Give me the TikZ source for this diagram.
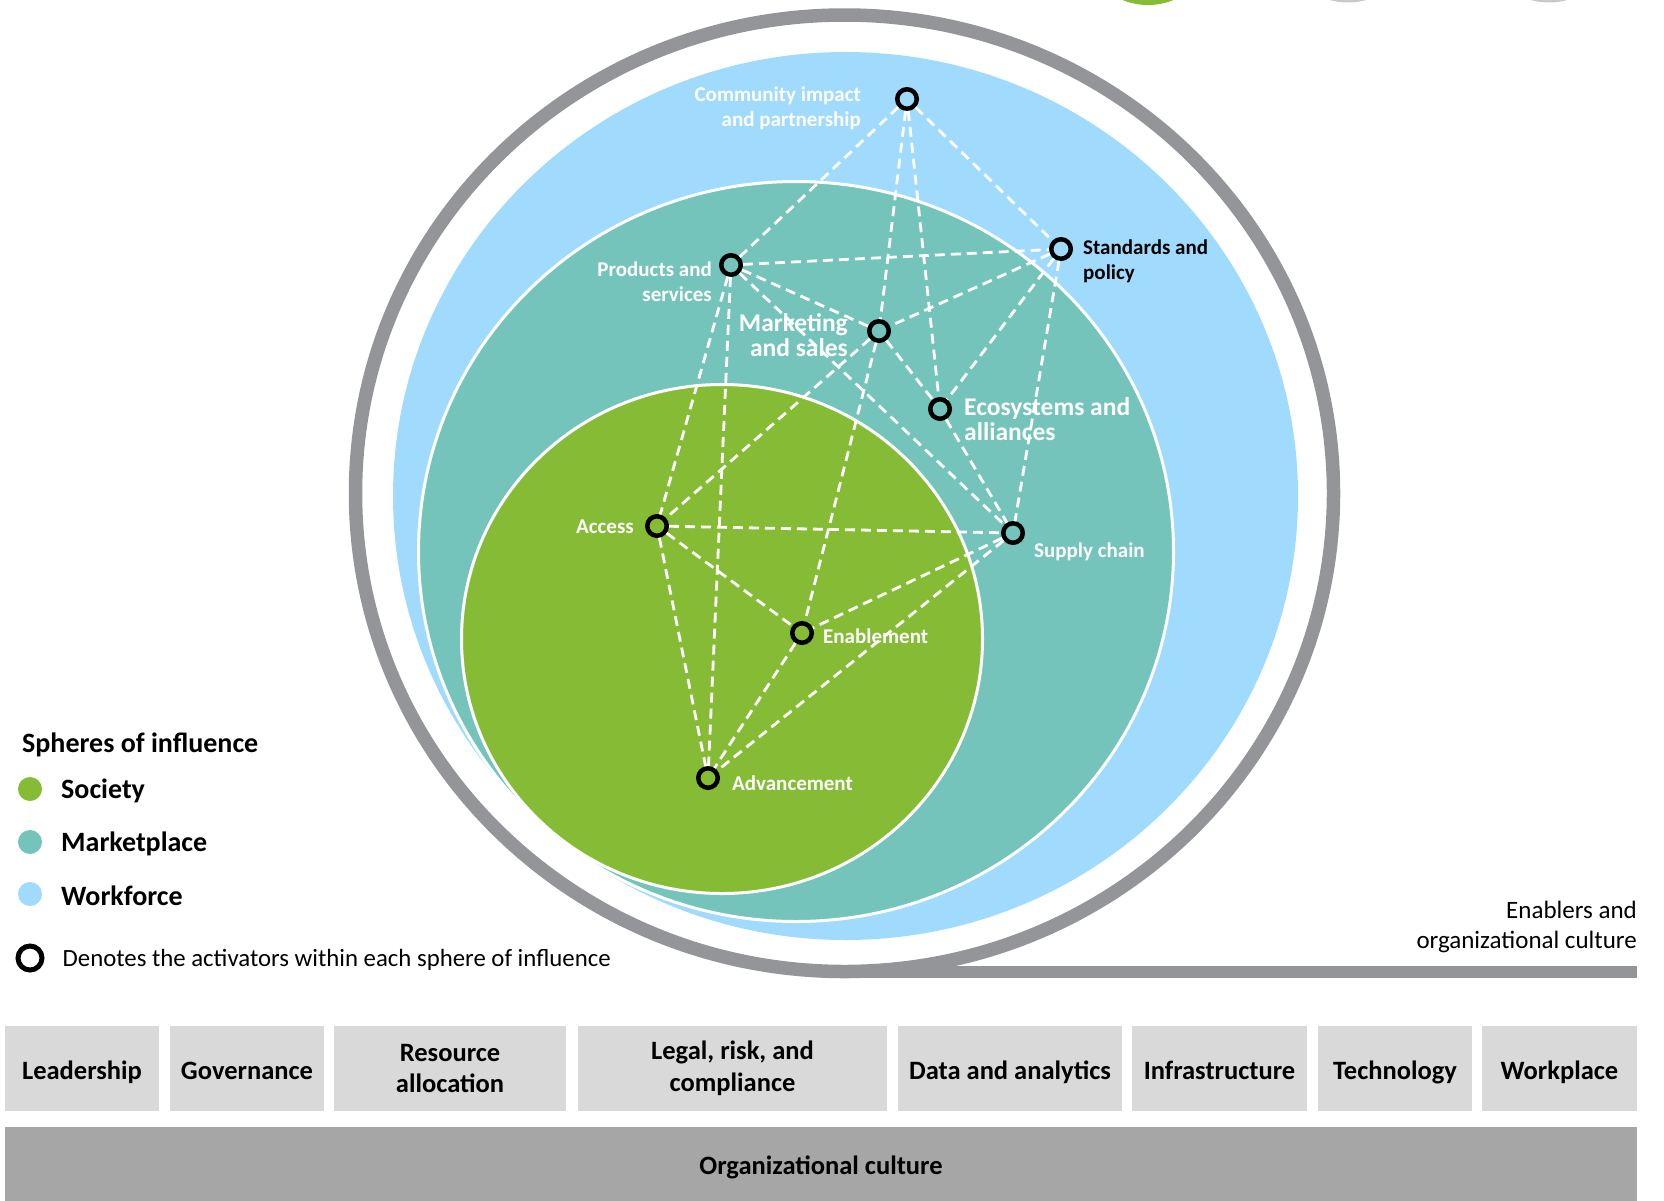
\documentclass[tikz,border=0pt]{standalone}
\usepackage{fontspec}
\setmainfont{Carlito}

\definecolor{society}{HTML}{86BC35}
\definecolor{market}{HTML}{75C4BB}
\definecolor{workforce}{HTML}{A0DBFD}
\definecolor{ringgray}{HTML}{939598}
\definecolor{boxgray}{HTML}{D9D9D9}
\definecolor{bargray}{HTML}{A6A6A6}
\definecolor{dotgray}{HTML}{C8C8C8}

\begin{document}
\begin{tikzpicture}[x=1pt,y=-1pt,
  activator/.style={circle,draw=black,line width=4.5pt,minimum size=19.5pt,inner sep=0pt},
  link/.style={draw=white,line width=2.8pt,dash pattern=on 10pt off 6pt},
  lbl/.style={font=\fontsize{21}{25}\selectfont\bfseries,text=white,inner sep=0pt},
  biglbl/.style={font=\fontsize{25.5}{24.5}\selectfont\bfseries,text=white,inner sep=0pt},
  legdot/.style={circle,minimum size=24pt,inner sep=0pt},
  legtext/.style={font=\fontsize{28}{32}\selectfont\bfseries,anchor=west,inner sep=0pt},
  enabler/.style={fill=boxgray,inner sep=0pt,minimum height=85pt,
    font=\fontsize{26.5}{31.5}\selectfont\bfseries,align=center},
  oneline/.style={text height=22pt,text depth=1pt}]

\useasboundingbox (0,0) rectangle (1664,1200);

% partial markers along the top edge
\fill[society] (1148,-63) circle [radius=68];
\fill[dotgray] (1348,-65.5) circle [radius=68];
\fill[dotgray] (1549,-65.5) circle [radius=68];

% spheres of influence
\fill[workforce] (845.5,496) ellipse [x radius=452.5, y radius=444];
\draw[white,line width=3pt,fill=market] (796,551.5) ellipse [x radius=377.5, y radius=370];
\draw[white,line width=3pt,fill=society] (722,639) ellipse [x radius=260.5, y radius=254.5];

% enclosing ring with its tail
\draw[ringgray,line width=13.5pt] (844.5,493.25) ellipse [x radius=489, y radius=478.25];
\coordinate (ringbot) at (844.5,972);
\coordinate (ringend) at (1637,972);
\draw[ringgray,line width=12.5pt] (ringbot) -- (ringend);

% activators
\node[activator] (comm) at (907,99) {};
\node[activator] (prod) at (731,265) {};
\node[activator] (stan) at (1061,249) {};
\node[activator] (mark) at (879,331) {};
\node[activator] (eco)  at (940,409) {};
\node[activator] (acc)  at (657,526) {};
\node[activator] (sup)  at (1013,533) {};
\node[activator] (enab) at (802,633) {};
\node[activator] (adv)  at (708,778) {};

% links between activators
\foreach \a/\b in {comm/prod,comm/mark,comm/eco,comm/stan,
                   prod/stan,prod/mark,prod/sup,prod/adv,prod/acc,
                   stan/mark,stan/eco,stan/sup,
                   mark/enab,mark/eco,mark/acc,
                   eco/sup,
                   acc/sup,acc/enab,acc/adv,
                   sup/enab,sup/adv,
                   enab/adv}
  \draw[link] (\a) -- (\b);

% activator labels
\node[lbl,anchor=east,align=right] (lcomm) at (861,108.5) {Community impact\\and partnership};
\node[lbl,anchor=east,align=right] (lprod) at (712,281.5) {Products and\\services};
\node[lbl,anchor=west,align=left,text=black] (lstan) at (1083,261.5) {Standards and\\policy};
\node[biglbl,anchor=east,align=right] (lmark) at (848,335) {Marketing\\and sales};
\node[biglbl,anchor=west,align=left] (leco) at (964,419) {Ecosystems and\\alliances};
\node[lbl,anchor=east] (lacc) at (634,527) {Access};
\node[lbl,anchor=west] (lsup) at (1034,552) {Supply chain};
\node[lbl,anchor=west] (lenab) at (823,636) {Enablement};
\node[lbl,anchor=west] (ladv) at (732,783) {Advancement};

% legend
\node[legtext] (legtitle) at (22,745) {Spheres of influence};
\node[legdot,fill=society] (dsoc) at (30,789) {};
\node[legdot,fill=market] (dmar) at (30,842) {};
\node[legdot,fill=workforce] (dwor) at (30,894) {};
\node[legtext] (tsoc) at (61,791) {Society};
\node[legtext] (tmar) at (61,844) {Marketplace};
\node[legtext] (twor) at (61,896) {Workforce};
\node[circle,draw=black,line width=5pt,minimum size=24pt,inner sep=0pt] (dact) at (30,958) {};
\node[anchor=west,inner sep=0pt,font=\fontsize{24.8}{28}\selectfont] (tact) at (62.5,960)
  {Denotes the activators within each sphere of influence};

\node[anchor=east,align=right,inner sep=0pt,font=\fontsize{25}{30}\selectfont] (enabtitle) at (1637,927)
  {Enablers and\\organizational culture};

% enablers
\node[enabler,oneline,minimum width=154pt] (e1) at (82,1068.5) {Leadership};
\node[enabler,oneline,minimum width=154pt] (e2) at (247,1068.5) {Governance};
\node[enabler,minimum width=232pt] (e3) at (450,1068.5) {Resource\\allocation};
\node[enabler,minimum width=309pt] (e4) at (732.5,1068.5) {Legal, risk, and\\compliance};
\node[enabler,oneline,minimum width=224pt] (e5) at (1010,1068.5) {Data and analytics};
\node[enabler,oneline,minimum width=175pt] (e6) at (1219.5,1068.5) {Infrastructure};
\node[enabler,oneline,minimum width=154pt] (e7) at (1395,1068.5) {Technology};
\node[enabler,oneline,minimum width=155pt] (e8) at (1559.5,1068.5) {Workplace};

% organizational culture
\node[fill=bargray,inner sep=0pt,minimum width=1632pt,minimum height=80pt,
  font=\fontsize{26.5}{30}\selectfont\bfseries] (culture) at (821,1167) {Organizational culture};
\end{tikzpicture}
\end{document}
